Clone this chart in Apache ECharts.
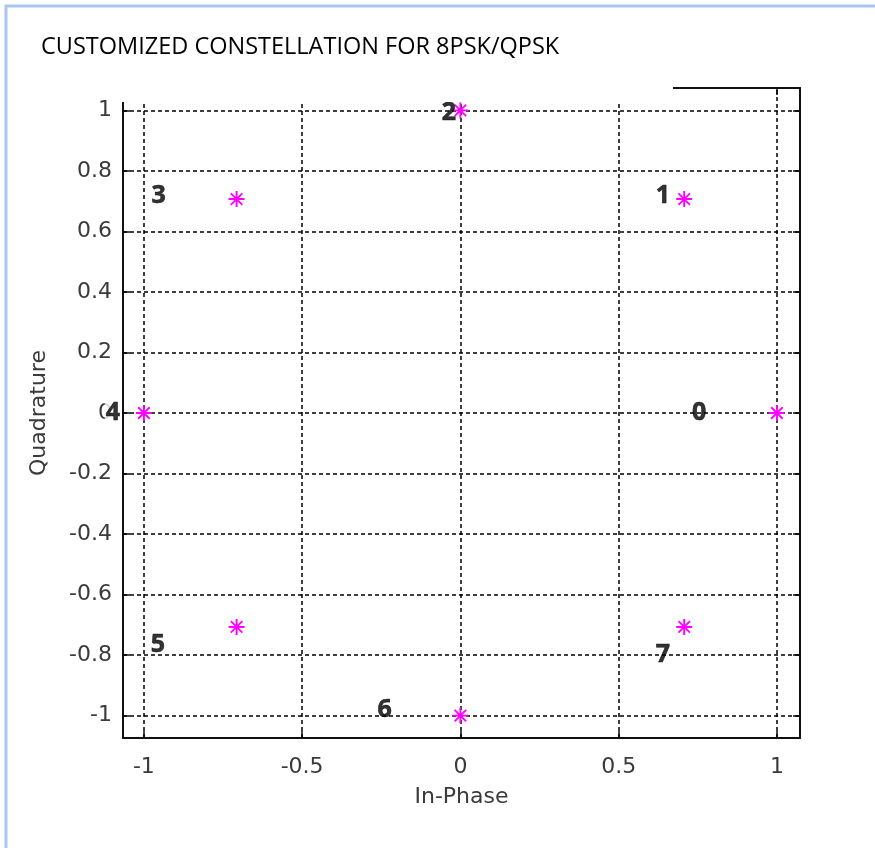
<!DOCTYPE html>
<html>
<head>
<meta charset="utf-8">
<title>Customized constellation for 8PSK/QPSK</title>
<script src="https://cdn.jsdelivr.net/npm/echarts@6/dist/echarts.min.js"></script>
<style>
  html, body { margin: 0; padding: 0; background: #fff; }
  #chart { width: 875px; height: 848px; }
</style>
</head>
<body>
<div id="chart"></div>
<script>
// Constellation points (symbol index, in-phase, quadrature)
const symbolIndex = ['0', '1', '2', '3', '4', '5', '6', '7'];
const inPhase     = [1, 0.7071, 0, -0.7071, -1, -0.7071, 0, 0.7071];
const quadrature  = [0, 0.7071, 1, 0.7071, 0, -0.7071, -1, -0.7071];

// Where each symbol number is written on the plot (data units)
const tagInPhase    = [0.754, 0.640, -0.036, -0.953, -1.098, -0.956, -0.239, 0.640];
const tagQuadrature = [0.000, 0.717, 0.992, 0.717, 0.000, -0.767, -0.982, -0.798];

// Tick values for both axes
const xTicks = [-1, -0.5, 0, 0.5, 1];
const yTicks = [-1, -0.8, -0.6, -0.4, -0.2, 0, 0.2, 0.4, 0.6, 0.8, 1];

const xRange = [-1.066, 1.073];
const yRange = [-1.074, 1.074];

// asterisk marker: plus and cross strokes
const STAR = 'path://M44 0H56V100H44Z M0 44H100V56H0Z M18 10L90 82L82 90L10 18Z M82 10L90 18L18 90L10 82Z';
const tickFont = { color: '#3a3a3a', fontFamily: 'DejaVu Sans', fontSize: 22 };

const points = inPhase.map((x, i) => [x, quadrature[i]]);
const tags = symbolIndex.map((s, i) => {
  const item = { value: [tagInPhase[i], tagQuadrature[i]], name: s };
  if (s === '4') item.label = { backgroundColor: '#fff', padding: [0, 1] };
  return item;
});

const gridLines = [
  ...xTicks.map(v => ({ xAxis: v })),
  ...yTicks.map(v => ({ yAxis: v }))
];

const chart = echarts.init(document.getElementById('chart'), null, { renderer: 'canvas' });

const axisBase = {
  type: 'value',
  axisLine: { onZero: false, lineStyle: { color: '#111', width: 2 } },
  splitLine: { show: false }
};
const tickStyle = { inside: true, length: 7, lineStyle: { color: '#111', width: 1.5 } };

chart.setOption({
  animation: false,
  backgroundColor: '#fff',
  title: {
    text: 'CUSTOMIZED CONSTELLATION FOR 8PSK/QPSK',
    left: 36,
    top: 30,
    textStyle: { fontFamily: 'Open Sans', fontWeight: 'normal', fontSize: 23.5, color: '#000' }
  },
  grid: { left: 123, right: 75, top: 88, bottom: 110, containLabel: false },
  xAxis: [
    Object.assign({}, axisBase, {
      position: 'bottom',
      min: xRange[0], max: xRange[1],
      axisTick: Object.assign({ customValues: xTicks }, tickStyle),
      axisLabel: Object.assign({ customValues: xTicks, margin: 18 }, tickFont),
      name: 'In-Phase',
      nameLocation: 'middle',
      nameGap: 48,
      nameTextStyle: tickFont
    }),
    Object.assign({}, axisBase, {
      position: 'top',
      min: xRange[0], max: xRange[1],
      axisTick: Object.assign({ customValues: xTicks }, tickStyle),
      axisLabel: { show: false }
    })
  ],
  yAxis: [
    Object.assign({}, axisBase, {
      position: 'left',
      min: yRange[0], max: yRange[1],
      axisTick: Object.assign({ customValues: yTicks }, tickStyle),
      axisLabel: Object.assign({ customValues: yTicks, margin: 11 }, tickFont),
      name: 'Quadrature',
      nameLocation: 'middle',
      nameGap: 73,
      nameTextStyle: tickFont
    }),
    Object.assign({}, axisBase, {
      position: 'right',
      min: yRange[0], max: yRange[1],
      axisTick: Object.assign({ customValues: yTicks }, tickStyle),
      axisLabel: { show: false }
    })
  ],
  series: [
    {
      // dashed grid at every tick
      type: 'scatter',
      data: [],
      z: 1,
      markLine: {
        silent: true,
        symbol: ['none', 'none'],
        label: { show: false },
        lineStyle: { color: '#000', width: 1.5, type: [4, 3], opacity: 1 },
        data: gridLines
      }
    },
    {
      name: 'constellation',
      type: 'scatter',
      z: 5,
      symbol: STAR,
      symbolSize: 16,
      itemStyle: { color: '#ff00ff', opacity: 1 },
      data: points
    },
    {
      name: 'symbol numbers',
      type: 'scatter',
      z: 6,
      clip: false,
      symbol: 'circle',
      symbolSize: 1,
      itemStyle: { color: 'transparent' },
      label: {
        show: true,
        position: 'inside',
        formatter: p => p.name,
        color: '#000',
        textBorderColor: '#000',
        textBorderWidth: 0.6,
        fontFamily: 'Open Sans',
        fontWeight: 'bold',
        fontSize: 25
      },
      data: tags
    }
  ],
  graphic: [
    {
      // the title box hides part of the top border of the axes
      type: 'rect', z: 50,
      shape: { x: 115, y: 78, width: 558, height: 24 },
      style: { fill: '#fff' }
    },
    {
      type: 'rect', z: 60,
      shape: { x: 6, y: 6, width: 1000, height: 1000 },
      style: { fill: 'none', stroke: '#a9c6ef', lineWidth: 3 }
    }
  ]
});
</script>
</body>
</html>
